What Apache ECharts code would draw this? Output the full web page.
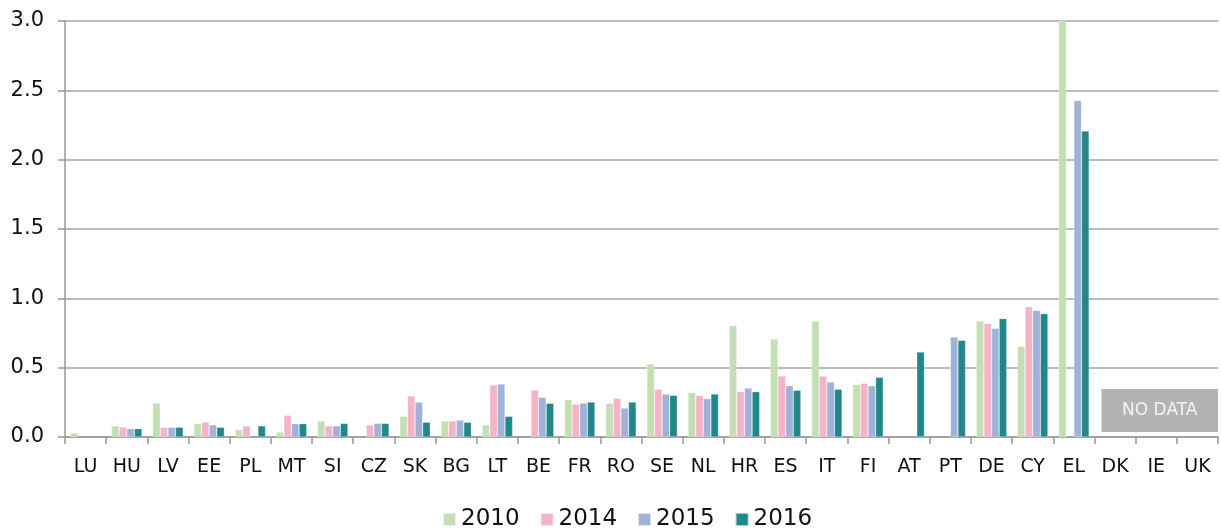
<!DOCTYPE html>
<html>
<head>
<meta charset="utf-8">
<script src="https://cdn.jsdelivr.net/npm/echarts@6/dist/echarts.min.js"></script>
<style>
  html, body { margin: 0; padding: 0; background: #fff; }
  #chart { width: 1221px; height: 532px; }
</style>
</head>
<body>
<div id="chart"></div>
<script>
const countries = ["LU","HU","LV","EE","PL","MT","SI","CZ","SK","BG","LT","BE","FR","RO","SE","NL","HR","ES","IT","FI","AT","PT","DE","CY","EL","DK","IE","UK"];
const years = ["2010", "2014", "2015", "2016"];
const colors = ["#c3dfb3", "#f5b4c5", "#a0b2d8", "#22878a"];

const v2010 = [0.03,0.08,0.245,0.096,0.053,0.036,0.115,null,0.149,0.115,0.087,null,0.269,0.243,0.526,0.32,0.803,0.707,0.836,0.378,null,null,0.836,0.654,3.0,null,null,null];
const v2014 = [null,0.072,0.07,0.108,0.08,0.156,0.08,0.087,0.296,0.115,0.375,0.339,0.236,0.279,0.344,0.30,0.327,0.44,0.44,0.387,null,null,0.82,0.94,null,null,null,null];
const v2015 = [null,0.06,0.07,0.087,null,0.096,0.08,0.098,0.252,0.122,0.382,0.286,0.245,0.209,0.31,0.277,0.353,0.37,0.397,0.37,null,0.721,0.784,0.913,2.427,null,null,null];
const v2016 = [null,0.06,0.07,0.07,0.08,0.096,0.098,0.098,0.106,0.106,0.149,0.243,0.252,0.252,0.30,0.31,0.327,0.337,0.344,0.43,0.613,0.697,0.854,0.89,2.206,null,null,null];
const seriesValues = [v2010, v2014, v2015, v2016];
const noDataCountries = ["DK", "IE", "UK"];

const chart = echarts.init(document.getElementById("chart"));
const font = "DejaVu Sans";

chart.setOption({
  animation: false,
  color: colors,
  grid: { left: 65, right: 3, top: 21, bottom: 95, containLabel: false },
  legend: {
    top: 503,
    left: 437,
    itemWidth: 13,
    itemHeight: 13,
    itemGap: 20,
    icon: "rect",
    textStyle: { fontFamily: font, fontSize: 23, color: "#111" },
    data: years
  },
  xAxis: {
    type: "category",
    data: countries,
    axisLine: { lineStyle: { color: "#999", width: 1.5 } },
    axisTick: { show: true, alignWithLabel: false, length: 7, lineStyle: { color: "#999", width: 1.5 } },
    axisLabel: { fontFamily: font, fontSize: 19, color: "#111", margin: 21 }
  },
  yAxis: {
    type: "value",
    min: 0,
    max: 3,
    interval: 0.5,
    axisLine: { show: true, lineStyle: { color: "#999", width: 1.5 } },
    axisTick: { show: true, inside: false, length: 7, lineStyle: { color: "#999", width: 1.5 } },
    splitLine: { lineStyle: { color: "#a6a6a6", width: 1.5 } },
    axisLabel: {
      fontFamily: font, fontSize: 21, color: "#111", margin: 21,
      formatter: v => v.toFixed(1)
    }
  },
  series: years.map((y, i) => ({
    name: y,
    type: "bar",
    data: seriesValues[i],
    barGap: "0%",
    barCategoryGap: "26%",
    itemStyle: { borderColor: "rgba(255,255,255,0.6)", borderWidth: 0.5 }
  }))
});

// "NO DATA" box spanning the countries without data
const first = chart.convertToPixel({ xAxisIndex: 0 }, noDataCountries[0]);
const last = chart.convertToPixel({ xAxisIndex: 0 }, noDataCountries[noDataCountries.length - 1]);
const half = (last - first) / (noDataCountries.length - 1) / 2;
const base = chart.convertToPixel({ yAxisIndex: 0 }, 0);
const x0 = first - half + 7;
const x1 = last + half;
chart.setOption({
  graphic: [{
    type: "group",
    children: [
      { type: "rect", shape: { x: x0, y: base - 48, width: x1 - x0, height: 43 }, style: { fill: "#b3b3b3" } },
      { type: "text", x: (x0 + x1) / 2, y: base - 26.5, style: { text: "NO DATA", fill: "#f4f4f4", font: "17px " + font, align: "center", verticalAlign: "middle" } }
    ]
  }]
});
window.addEventListener("resize", chart.resize);
</script>
</body>
</html>
